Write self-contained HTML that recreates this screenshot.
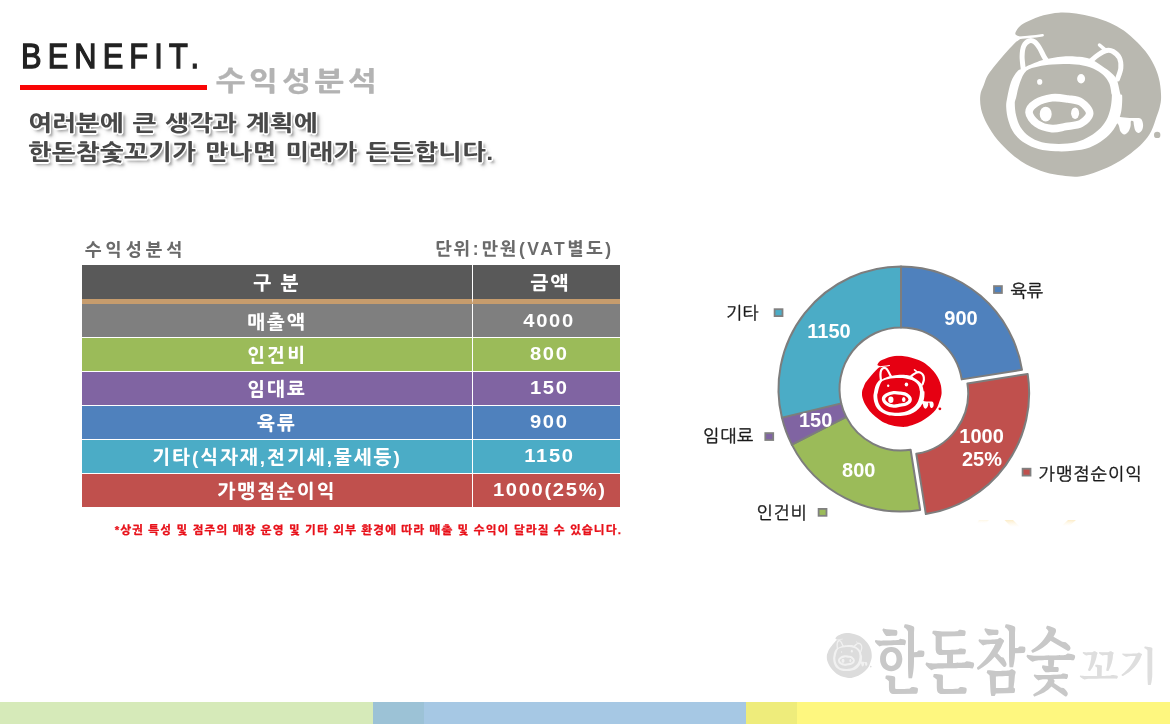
<!DOCTYPE html>
<html lang="ko">
<head>
<meta charset="utf-8">
<title>BENEFIT 수익성분석</title>
<style>
html,body{margin:0;padding:0;}
body{width:1170px;height:724px;position:relative;overflow:hidden;background:#fff;
  font-family:"Liberation Sans","NanumGothic","Noto Sans CJK KR",sans-serif;}
.abs{position:absolute;white-space:nowrap;}
#benefit{left:20.5px;top:34.2px;font-size:35px;line-height:44px;letter-spacing:6.95px;color:#222;-webkit-text-stroke:1.3px #222;transform:scaleX(.88);transform-origin:0 0;}
#redline{left:20px;top:85px;width:187px;height:5px;background:#f90505;}
#subtitle{left:216px;top:65px;font-size:27px;line-height:34px;font-weight:800;color:#b3b3b3;letter-spacing:3.2px;transform:scaleX(1.15);transform-origin:0 0;-webkit-text-stroke:0.25px #b3b3b3;}
#lead{left:28px;top:108.8px;font-size:22px;line-height:29.5px;font-weight:800;color:#484848;letter-spacing:0.4px;word-spacing:1px;transform:scaleX(1.14);transform-origin:0 0;
  text-shadow:1.3px 0 0 #fff,-1.3px 0 0 #fff,0 1.5px 0 #fff,0 -1.5px 0 #fff,1px 1px 0 #fff,-1px -1px 0 #fff,1px -1px 0 #fff,-1px 1px 0 #fff,0 0 2px #fff,2.5px 3px 2.5px rgba(0,0,0,.36),3px 4px 5px rgba(0,0,0,.18);white-space:nowrap;}
#tbl-title{left:85px;top:240px;font-size:17.5px;line-height:20px;font-weight:800;color:#6a6a6a;letter-spacing:3.8px;}
#tbl-unit{right:556.5px;top:239px;font-size:17.5px;line-height:20px;font-weight:800;color:#6a6a6a;letter-spacing:2.5px;}
table{position:absolute;left:82px;top:265px;width:538px;border-collapse:separate;border-spacing:0;table-layout:fixed;}
td,th{padding:3px 0 0 0;box-sizing:border-box;text-align:center;color:#fff;font-weight:800;font-size:19px;letter-spacing:2px;height:34px;border-top:1px solid #fff;line-height:22px;}
th{height:39px;padding-top:4px;background:#595959;border-top:none;border-bottom:5px solid #c69c6d;}
td:first-child,th:first-child{width:391px;border-right:1px solid #fff;}
.r1 td{border-top:none;height:33px;padding-top:4px;}
.r1 td.num{padding-top:0;padding-bottom:0;}
.r1 td{background:#7f7f7f}.r2 td{background:#9bbb59}.r3 td{background:#8064a2}
.r4 td{background:#4f81bd}.r5 td{background:#4bacc6}.r6 td{background:#c0504d}
td.num{font-weight:bold;letter-spacing:1.5px;font-size:18px;padding:0 0 2px 6px;}
td.num span{display:inline-block;transform:scaleX(1.12);}
th+th{padding-left:8px;}
#note{right:548px;top:523px;font-size:11.5px;line-height:14px;font-weight:800;color:#e8111a;letter-spacing:1.1px;-webkit-text-stroke:0.25px #e8111a;}
.pb{fill:var(--pb)}.pl{stroke:var(--pl)}.pf{fill:var(--pl)}
#bar div{position:absolute;top:702px;height:22px;}
</style>
</head>
<body>
<div id="benefit" class="abs">BENEFIT.</div>
<div id="redline" class="abs"></div>
<div id="subtitle" class="abs">수익성분석</div>
<div id="lead" class="abs">여러분에 큰 생각과 계획에<br>한돈참숯꼬기가 만나면 미래가 든든합니다.</div>

<div id="tbl-title" class="abs">수익성분석</div>
<div id="tbl-unit" class="abs">단위:만원(VAT별도)</div>
<table>
<tr><th>구 분</th><th>금액</th></tr>
<tr class="r1"><td>매출액</td><td class="num"><span>4000</span></td></tr>
<tr class="r2"><td>인건비</td><td class="num"><span>800</span></td></tr>
<tr class="r3"><td>임대료</td><td class="num"><span>150</span></td></tr>
<tr class="r4"><td>육류</td><td class="num"><span>900</span></td></tr>
<tr class="r5"><td>기타(식자재,전기세,물세등)</td><td class="num"><span>1150</span></td></tr>
<tr class="r6"><td>가맹점순이익</td><td class="num"><span>1000(25%)</span></td></tr>
</table>
<div id="note" class="abs">*상권 특성 및 점주의 매장 운영 및 기타 외부 환경에 따라 매출 및 수익이 달라질 수 있습니다.</div>


<svg id="art" class="abs" style="left:0;top:0" width="1170" height="724" viewBox="0 0 1170 724">
<defs><linearGradient id="fy" x1="0" y1="0" x2="0" y2="1"><stop offset="0" stop-color="#fbe6b4"/><stop offset="1" stop-color="#fff8e8" stop-opacity="0.2"/></linearGradient><symbol id="pig" viewBox="979 12 183 166" preserveAspectRatio="none"><path class="pb" d="M1015.3 34.1C1015.0 32.2 1017.5 28.5 1019.6 26.4C1021.7 24.2 1024.1 23.0 1028.1 21.2C1032.1 19.4 1038.4 16.7 1043.5 15.3C1048.6 13.9 1053.5 13.0 1058.9 12.7C1064.3 12.4 1070.3 12.8 1076.0 13.5C1081.7 14.2 1087.4 15.4 1093.1 17.0C1098.8 18.6 1105.1 20.6 1110.2 22.9C1115.3 25.2 1119.2 27.3 1123.8 30.6C1128.3 33.9 1133.5 38.6 1137.5 42.6C1141.5 46.6 1144.8 50.3 1147.8 54.6C1150.8 58.9 1153.5 63.7 1155.5 68.2C1157.5 72.8 1158.8 77.1 1159.7 81.9C1160.6 86.8 1161.1 93.1 1161.1 97.3C1161.1 101.5 1160.5 103.8 1159.7 107.2C1158.9 110.6 1157.7 113.5 1156.3 117.5C1154.9 121.5 1153.5 126.9 1151.2 131.2C1148.9 135.5 1146.0 139.4 1142.6 143.1C1139.2 146.8 1135.2 150.0 1130.7 153.4C1126.2 156.8 1120.7 160.6 1115.3 163.6C1109.9 166.6 1104.2 169.2 1098.2 171.3C1092.2 173.5 1085.4 175.8 1079.4 176.5C1073.4 177.2 1068.0 176.3 1062.3 175.6C1056.6 174.9 1051.2 174.0 1045.2 172.2C1039.2 170.3 1032.1 167.6 1026.4 164.5C1020.7 161.4 1015.8 157.5 1011.0 153.4C1006.2 149.3 1001.4 144.5 997.4 139.7C993.4 134.8 989.8 129.4 987.1 124.3C984.4 119.2 982.2 113.7 981.1 108.9C980.0 104.1 979.9 99.2 980.3 95.3C980.7 91.4 982.4 88.7 983.7 85.3C985.0 81.9 985.9 78.5 987.9 75.1C989.9 71.7 992.9 68.2 995.6 64.8C998.3 61.4 1001.1 58.1 1004.2 54.6C1007.3 51.1 1011.5 46.4 1014.4 43.5C1017.2 40.6 1021.1 39.1 1021.3 37.5C1021.4 35.9 1015.6 36.0 1015.3 34.1Z"/><circle class="pb" cx="1157.2" cy="134.9" r="3.2"/><g class="pl" fill="none" stroke-linecap="round" stroke-linejoin="round"><path class="pf" stroke="none" fill-rule="evenodd" d="M1021.3 69.1C1022.8 68.2 1024.1 67.6 1026.4 66.5C1028.7 65.5 1031.8 64.0 1035.0 62.8C1038.1 61.6 1040.1 60.4 1045.2 59.4C1050.3 58.3 1060.0 56.7 1065.7 56.3C1071.4 55.9 1075.4 56.4 1079.4 56.8C1083.4 57.2 1086.0 57.4 1089.7 58.8C1093.4 60.3 1097.9 63.3 1101.6 65.7C1105.3 68.1 1109.3 71.0 1111.9 73.4C1114.4 75.8 1115.6 76.8 1117.0 80.2C1118.4 83.6 1119.6 91.4 1120.4 93.9C1121.3 96.4 1121.9 93.0 1122.1 95.3C1122.4 97.5 1122.2 103.5 1121.8 107.2C1121.4 110.9 1120.9 113.8 1119.6 117.5C1118.2 121.2 1116.3 125.7 1113.6 129.4C1110.9 133.1 1107.3 136.7 1103.3 139.7C1099.3 142.7 1094.8 145.5 1089.7 147.4C1084.5 149.2 1078.3 150.2 1072.6 150.8C1066.9 151.5 1061.2 151.6 1055.5 151.3C1049.8 151.0 1043.5 150.5 1038.4 149.1C1033.2 147.7 1028.7 145.7 1024.7 143.1C1020.7 140.6 1017.2 137.4 1014.4 133.7C1011.7 130.0 1009.8 125.3 1008.5 120.9C1007.1 116.5 1006.4 111.2 1006.2 107.2C1006.0 103.3 1006.5 101.5 1007.3 97.3C1008.1 93.1 1009.4 86.2 1011.0 81.9C1012.6 77.6 1015.3 73.8 1017.0 71.7C1018.7 69.5 1019.7 70.0 1021.3 69.1Z M1026.4 70.8C1029.5 68.1 1034.1 67.6 1038.4 66.5C1042.6 65.5 1047.5 64.9 1052.1 64.5C1056.6 64.1 1061.2 63.9 1065.7 64.0C1070.3 64.0 1074.8 64.1 1079.4 64.8C1084.0 65.6 1089.1 66.9 1093.1 68.6C1097.1 70.3 1100.6 72.6 1103.3 75.1C1106.0 77.6 1107.9 80.5 1109.3 83.6C1110.7 86.8 1111.1 92.0 1111.5 93.9C1112.0 95.8 1112.0 93.3 1111.9 95.3C1111.8 97.2 1111.7 101.8 1111.0 105.5C1110.3 109.2 1109.3 113.8 1107.6 117.5C1105.9 121.2 1103.8 124.6 1100.8 127.7C1097.8 130.9 1093.8 133.9 1089.7 136.3C1085.5 138.7 1081.1 141.0 1076.0 142.3C1070.9 143.5 1064.6 144.0 1058.9 144.0C1053.2 144.0 1046.8 143.5 1041.8 142.3C1036.8 141.0 1032.5 138.8 1029.0 136.3C1025.4 133.7 1022.6 130.3 1020.4 126.9C1018.3 123.5 1017.1 119.6 1016.2 115.8C1015.2 111.9 1014.8 106.9 1014.8 103.8C1014.8 100.7 1015.3 100.8 1016.2 97.3C1017.0 93.8 1018.2 87.2 1019.9 82.8C1021.6 78.4 1023.3 73.5 1026.4 70.8Z"/><path stroke-width="5" d="M1023.3 69.5C1023.1 67.3 1022.0 60.2 1022.1 56.3C1022.2 52.4 1022.6 48.6 1023.8 46.0C1025.0 43.4 1027.2 41.6 1029.0 40.9C1030.8 40.2 1032.9 40.7 1034.6 41.8C1036.3 42.9 1037.9 45.3 1039.4 47.7C1040.9 50.1 1042.5 54.0 1043.8 56.3C1045.1 58.6 1046.5 60.5 1047.0 61.4"/><path stroke-width="2.6" d="M1020.5 37.8C1022.1 37.6 1026.3 37.2 1030.0 36.8C1033.7 36.4 1040.5 35.5 1042.6 35.2"/><path stroke-width="5" d="M1089.7 61.8C1091.1 60.7 1095.2 56.9 1098.0 55.0C1100.8 53.1 1104.0 51.1 1106.5 50.5C1109.0 49.9 1110.8 50.2 1113.0 51.5C1115.2 52.8 1118.2 55.2 1119.5 58.0C1120.8 60.8 1121.1 64.7 1120.8 68.2C1120.5 71.7 1118.0 77.2 1117.5 79.0"/><path stroke-width="3.5" d="M1099.5 45.0C1100.7 46.0 1105.6 50.2 1106.8 51.2"/><path stroke-width="7.6" d="M1029.0 112.4C1028.9 109.0 1032.2 105.4 1036.0 103.0C1039.8 100.6 1046.7 98.5 1052.0 97.8C1057.3 97.1 1063.2 98.3 1068.0 99.0C1072.8 99.7 1077.5 99.7 1081.1 102.1C1084.7 104.5 1089.7 109.6 1089.7 113.2C1089.7 116.8 1085.0 121.3 1081.0 123.5C1077.0 125.7 1070.8 125.7 1066.0 126.5C1061.2 127.3 1056.9 129.1 1052.0 128.6C1047.1 128.1 1040.5 126.2 1036.7 123.5C1032.9 120.8 1029.1 115.8 1029.0 112.4Z"/><path class="pf" stroke="none" d="M1114.0 116.2C1115.0 115.5 1119.0 116.9 1122.0 117.2C1125.0 117.5 1128.9 117.8 1132.0 118.0C1135.1 118.2 1138.7 117.6 1140.5 118.6C1142.3 119.6 1142.7 122.2 1143.0 124.0C1143.3 125.8 1143.0 128.0 1142.3 129.5C1141.6 131.0 1140.0 132.8 1138.8 133.0C1137.6 133.2 1136.1 131.8 1135.3 130.5C1134.5 129.2 1134.2 126.5 1133.9 125.0C1133.6 123.5 1133.8 121.8 1133.3 121.2C1132.8 120.6 1131.4 120.4 1130.9 121.2C1130.5 122.0 1131.0 124.3 1130.6 126.0C1130.2 127.7 1129.5 130.1 1128.5 131.5C1127.5 132.9 1125.6 134.6 1124.3 134.6C1123.0 134.6 1121.4 133.0 1120.5 131.5C1119.6 130.0 1119.5 127.2 1118.8 125.5C1118.0 123.8 1116.8 123.0 1116.0 121.5C1115.2 120.0 1113.0 116.9 1114.0 116.2Z"/></g><g class="pf"><ellipse cx="1039.7" cy="81.9" rx="2.6" ry="2.8"/><ellipse cx="1081.1" cy="78.8" rx="4" ry="4.7"/><ellipse cx="1045.7" cy="114.1" rx="6" ry="7.4"/><ellipse cx="1075.1" cy="113.2" rx="4" ry="5.8"/></g></symbol></defs>
<!-- top-right grey pig -->
<use href="#pig" x="979" y="12" width="183" height="166" style="--pb:#b9b8b0;--pl:#fff"/>
<!-- donut chart -->
<g stroke="#7d7d7d" stroke-width="2" stroke-linejoin="round">
<path fill="#4f81bd" d="M901.00 266.50A122.5 122.5 0 0 1 1021.99 369.84L961.74 379.38A61.5 61.5 0 0 0 901.00 327.50Z"/>
<path fill="#c0504d" d="M1027.65 373.95A122.5 122.5 0 0 1 925.83 514.11L916.28 453.86A61.5 61.5 0 0 0 967.41 383.49Z"/>
<path fill="#9bbb59" d="M920.16 509.99A122.5 122.5 0 0 1 791.85 444.61L846.20 416.92A61.5 61.5 0 0 0 910.62 449.74Z"/>
<path fill="#8064a2" d="M791.85 444.61A122.5 122.5 0 0 1 781.88 417.60L841.20 403.36A61.5 61.5 0 0 0 846.20 416.92Z"/>
<path fill="#4bacc6" d="M781.88 417.60A122.5 122.5 0 0 1 901.00 266.50L901.00 327.50A61.5 61.5 0 0 0 841.20 403.36Z"/>
</g>
<use href="#pig" x="861.5" y="355.5" width="80.5" height="72" style="--pb:#e60012;--pl:#fff"/>
<g font-family="'Liberation Sans',sans-serif" font-weight="bold" font-size="20" fill="#fff" text-anchor="middle">
<text x="961" y="325">900</text>
<text x="829" y="337.5">1150</text>
<text x="815.7" y="426.5">150</text>
<text x="858.8" y="477">800</text>
<text x="981.6" y="443">1000</text>
<text x="982" y="465.5">25%</text>
</g>
<g stroke="#808080" stroke-width="1.8">
<rect x="994" y="286.1" width="7.9" height="6.9" fill="#4f81bd"/>
<rect x="774.6" y="309.2" width="7.9" height="6.9" fill="#4bacc6"/>
<rect x="765.3" y="433.1" width="7.9" height="6.9" fill="#8064a2"/>
<rect x="818.6" y="508.9" width="7.9" height="6.9" fill="#9bbb59"/>
<rect x="1022.6" y="468.7" width="7.9" height="6.9" fill="#c0504d"/>
</g>
<g font-family="'Liberation Sans','NanumGothic',sans-serif" font-weight="400" font-size="17.4" fill="#1a1a1a" stroke="#1a1a1a" stroke-width="0.35">
<text x="1010.5" y="297">육류</text>
<text x="726" y="318.8">기타</text>
<text x="703" y="442" letter-spacing="0.7">임대료</text>
<text x="756.5" y="518.7" letter-spacing="0.6">인건비</text>
<text x="1038.5" y="480" letter-spacing="1">가맹점순이익</text>
</g>
<polygon points="1004.5,520 1013,520 1019.5,526.5 1010.5,526.5" fill="url(#fy)" opacity="0.75"/>
<polygon points="1068,520 1076,520 1070,525.5 1062,525.5" fill="url(#fy)" opacity="0.75"/>
<polygon points="979,520 989,520 986,523 977,523" fill="url(#fy)" opacity="0.35"/>
<!-- bottom-right logo -->
<use href="#pig" x="826.4" y="632.8" width="45.6" height="45.6" style="--pb:#dcdcdc;--pl:#f1f1f1"/>
<g font-family="'Noto Serif CJK KR',serif" font-weight="700">
<text x="874" y="688" font-size="62" fill="#c8c8c8" textLength="202" lengthAdjust="spacingAndGlyphs" transform="translate(0,696) scale(1,1.17) translate(0,-696)">한돈참숯</text>
<text x="1079" y="680" font-size="39" fill="#dedede" textLength="79" lengthAdjust="spacingAndGlyphs">꼬기</text>
</g>
</svg>

<div id="bar">
<div style="left:0;width:373px;background:#d6eab9"></div>
<div style="left:373px;width:51px;background:#9cc2d6"></div>
<div style="left:424px;width:322px;background:#a6c8e4"></div>
<div style="left:746px;width:51px;background:#eeec7b"></div>
<div style="left:797px;width:373px;background:#fef77f"></div>
</div>
</body>
</html>
